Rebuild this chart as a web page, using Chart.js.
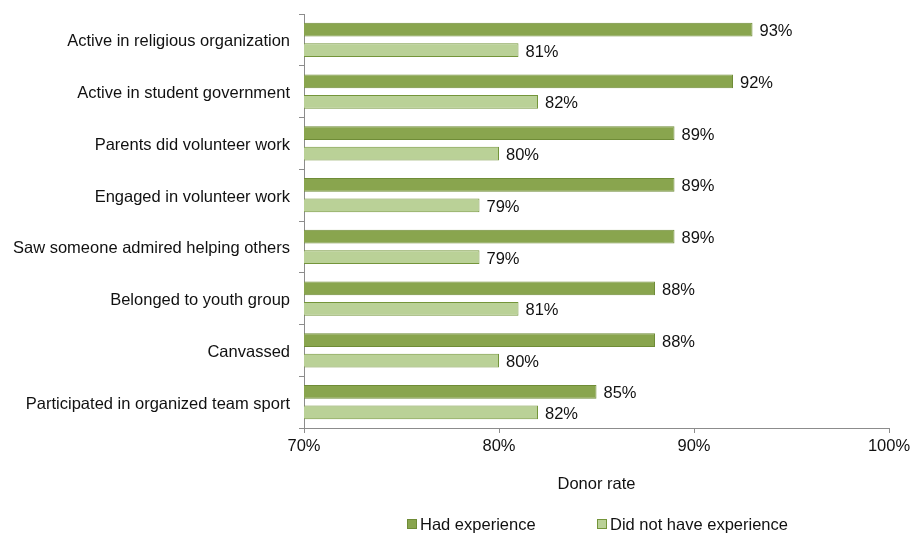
<!DOCTYPE html>
<html>
<head>
<meta charset="utf-8">
<script src="https://cdn.jsdelivr.net/npm/chart.js@4"></script>
<style>
    html, body { margin: 0; padding: 0; background: #fff; }
    #wrap { width: 910px; height: 533px; position: relative; }
</style>
</head>
<body>
<div id="wrap"><canvas id="donorChart"></canvas></div>
<script>
const categories = [
    "Active in religious organization",
    "Active in student government",
    "Parents did volunteer work",
    "Engaged in volunteer work",
    "Saw someone admired helping others",
    "Belonged to youth group",
    "Canvassed",
    "Participated in organized team sport",
];
const hadExperience = [93, 92, 89, 89, 89, 88, 88, 85];
const noExperience = [81, 82, 80, 79, 79, 81, 80, 82];
const seriesNames = ["Had experience", "Did not have experience"];
const xTicks = [70, 80, 90, 100];

const FONT = "'Liberation Sans', Arial, sans-serif";
const FONT_SIZE = 16.5;
const TEXT = "#111";

// value labels just past the end of each bar
const barLabels = {
    id: "barLabels",
    afterDatasetsDraw(chart) {
        const ctx = chart.ctx;
        ctx.save();
        ctx.font = `${FONT_SIZE}px ${FONT}`;
        ctx.fillStyle = TEXT;
        ctx.textAlign = "left";
        ctx.textBaseline = "middle";
        chart.data.datasets.forEach((ds, i) => {
            chart.getDatasetMeta(i).data.forEach((bar, j) => {
                ctx.fillText(`${ds.data[j]}%`, bar.x + 7, bar.y + 2);
            });
        });
        ctx.restore();
    },
};

// legend row under the axis title
const bottomLegend = {
    id: "bottomLegend",
    afterDraw(chart) {
        const ctx = chart.ctx;
        const starts = [407, 597];
        const y = 524;
        ctx.save();
        ctx.font = `${FONT_SIZE}px ${FONT}`;
        ctx.textBaseline = "middle";
        ctx.textAlign = "left";
        chart.data.datasets.forEach((ds, i) => {
            const x = starts[i];
            ctx.fillStyle = ds.backgroundColor;
            ctx.fillRect(x, y - 5, 10, 10);
            ctx.strokeStyle = ds.borderColor;
            ctx.lineWidth = 1;
            ctx.strokeRect(x + 0.5, y - 4.5, 9, 9);
            ctx.fillStyle = TEXT;
            ctx.fillText(ds.label, x + 13, y + 1);
        });
        ctx.restore();
    },
};

new Chart(document.getElementById("donorChart"), {
    type: "bar",
    data: {
        labels: categories,
        datasets: [
            {
                label: seriesNames[0],
                data: hadExperience,
                backgroundColor: "#89a54e",
                borderColor: "#6f8c37",
                borderWidth: 1,
                barPercentage: 0.68,
                categoryPercentage: 0.79,
            },
            {
                label: seriesNames[1],
                data: noExperience,
                backgroundColor: "#bad197",
                borderColor: "#74953a",
                borderWidth: 1,
                barPercentage: 0.68,
                categoryPercentage: 0.79,
            },
        ],
    },
    options: {
        indexAxis: "y",
        responsive: true,
        maintainAspectRatio: false,
        animation: false,
        layout: { padding: { top: 14, right: 21, bottom: 35, left: 0 } },
        plugins: {
            legend: { display: false },
            tooltip: { enabled: false },
        },
        scales: {
            x: {
                min: 70,
                max: 100,
                afterBuildTicks(scale) {
                    scale.ticks = xTicks.map(v => ({ value: v }));
                },
                afterFit(scale) {
                    scale.height = 70;
                    scale.paddingLeft = 0;
                    scale.paddingRight = 0;
                },
                grid: {
                    drawOnChartArea: false,
                    drawTicks: true,
                    tickLength: 5,
                    color: "#8c8c8c",
                },
                border: { display: true, color: "#8c8c8c" },
                ticks: {
                    padding: 4,
                    color: TEXT,
                    font: { family: FONT, size: FONT_SIZE },
                    callback: v => `${v}%`,
                },
                title: {
                    display: true,
                    text: "Donor rate",
                    color: TEXT,
                    font: { family: FONT, size: FONT_SIZE },
                    padding: { top: 4, bottom: 4 },
                },
            },
            y: {
                afterFit(scale) {
                    scale.width = 304;
                    scale.paddingTop = 0;
                    scale.paddingBottom = 0;
                },
                grid: {
                    offset: true,
                    drawOnChartArea: false,
                    drawTicks: true,
                    tickLength: 5,
                    color: "#8c8c8c",
                },
                border: { display: true, color: "#8c8c8c" },
                ticks: {
                    padding: 9,
                    labelOffset: 2,
                    color: TEXT,
                    font: { family: FONT, size: FONT_SIZE },
                },
            },
        },
    },
    plugins: [barLabels, bottomLegend],
});
</script>
</body>
</html>
